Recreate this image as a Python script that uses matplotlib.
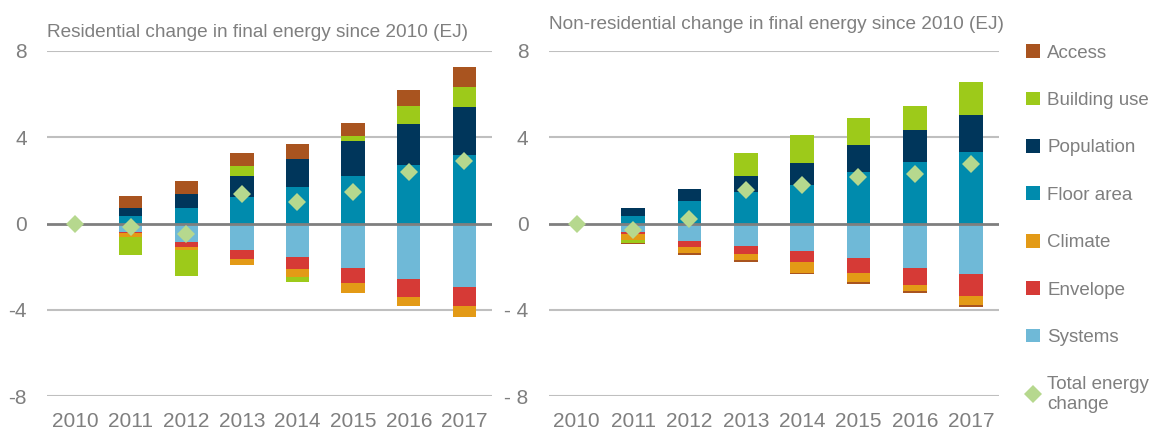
import matplotlib.pyplot as plt
from matplotlib.lines import Line2D
from matplotlib.patches import Patch
import numpy as np

plt.rcParams['font.family'] = ['Liberation Sans', 'DejaVu Sans']

years = ["2010", "2011", "2012", "2013", "2014", "2015", "2016", "2017"]

# stacking order, closest to zero first
series = ["Systems", "Envelope", "Climate", "Floor area", "Population", "Building use", "Access"]
colors = {
    "Systems": "#6FB9D7",
    "Envelope": "#D63A36",
    "Climate": "#E39A16",
    "Floor area": "#008BAD",
    "Population": "#00365B",
    "Building use": "#9DCA1A",
    "Access": "#A9541F",
}
total_color = "#B6D88E"

# Residential (EJ)
res_systems = [0, -0.37, -0.85, -1.24, -1.57, -2.05, -2.56, -2.93]
res_envelope = [0, -0.08, -0.22, -0.39, -0.54, -0.70, -0.85, -0.90]
res_climate = [0, -0.17, -0.17, -0.31, -0.39, -0.47, -0.39, -0.51]
res_floor = [0, 0.36, 0.71, 1.21, 1.68, 2.22, 2.70, 3.18]
res_population = [0, 0.34, 0.66, 0.99, 1.33, 1.63, 1.93, 2.22]
res_building_use = [0, -0.84, -1.20, 0.49, -0.19, 0.19, 0.84, 0.94]
res_access = [0, 0.57, 0.60, 0.60, 0.69, 0.60, 0.73, 0.91]
res_total = [0, -0.17, -0.47, 1.35, 1.01, 1.44, 2.38, 2.90]

# Non-residential (EJ)
nonres_systems = [0, -0.37, -0.81, -1.05, -1.27, -1.61, -2.05, -2.36]
nonres_envelope = [0, -0.12, -0.28, -0.36, -0.50, -0.68, -0.82, -0.98]
nonres_climate = [0, -0.28, -0.28, -0.28, -0.50, -0.42, -0.26, -0.43]
nonres_floor = [0, 0.36, 1.05, 1.46, 1.80, 2.40, 2.85, 3.33]
nonres_population = [0, 0.34, 0.53, 0.74, 1.01, 1.26, 1.48, 1.72]
nonres_building_use = [0, -0.12, 0, 1.09, 1.30, 1.25, 1.10, 1.52]
nonres_access = [0, -0.08, -0.08, -0.08, -0.08, -0.08, -0.08, -0.08]
nonres_total = [0, -0.28, 0.19, 1.55, 1.80, 2.17, 2.28, 2.76]

res_data = [res_systems, res_envelope, res_climate, res_floor, res_population, res_building_use, res_access]
nonres_data = [nonres_systems, nonres_envelope, nonres_climate, nonres_floor, nonres_population, nonres_building_use, nonres_access]

grey = "#7F7F7F"


def draw_panel(ax, data, total, title, ticklabels, title_y):
    x = np.arange(len(years))
    pos = np.zeros(len(years))
    neg = np.zeros(len(years))
    for name, vals in zip(series, data):
        vals = np.array(vals, dtype=float)
        bottoms = np.where(vals >= 0, pos, neg)
        ax.bar(x, vals, 0.42, bottom=bottoms, color=colors[name], zorder=2)
        pos = pos + np.where(vals >= 0, vals, 0)
        neg = neg + np.where(vals < 0, vals, 0)
    ax.plot(x, total, linestyle="none", marker="D", markersize=9,
            color=total_color, markeredgewidth=0, zorder=4)

    ax.set_xlim(-0.5, 7.5)
    ax.set_ylim(-8, 8)
    ax.set_yticks([8, 4, 0, -4, -8])
    ax.set_yticklabels(ticklabels)
    ax.set_xticks(x)
    ax.set_xticklabels(years)
    for v in [8, 4, -4, -8]:
        ax.axhline(v, color="#BFBFBF", linewidth=1.5, zorder=1)
    ax.axhline(0, color=grey, linewidth=2, zorder=3)
    for s in ax.spines.values():
        s.set_visible(False)
    ax.tick_params(length=0, labelsize=15, colors=grey)
    ax.tick_params(axis="x", pad=11.5)
    ax.tick_params(axis="y", pad=14.5)
    ax.set_title(title, loc="left", color=grey, fontsize=13.7, y=title_y)


fig = plt.figure(figsize=(11.5, 4.32), dpi=100)
ax1 = fig.add_axes([0.041, 0.083, 0.387, 0.799])
ax2 = fig.add_axes([0.477, 0.083, 0.392, 0.799])

draw_panel(ax1, res_data, res_total,
           "Residential change in final energy since 2010 (EJ)",
           ["8", "4", "0", "-4", "-8"], 1.015)
draw_panel(ax2, nonres_data, nonres_total,
           "Non-residential change in final energy since 2010 (EJ)",
           ["8", "4", "0", "- 4", "- 8"], 1.04)

handles = [Patch(facecolor=colors[n], label=n) for n in reversed(series)]
handles.append(Line2D([], [], linestyle="none", marker="D", markersize=9,
                      color=total_color, markeredgewidth=0, label="Total energy\nchange"))
leg = fig.legend(handles=handles, loc="upper left", bbox_to_anchor=(0.886, 0.915),
                 frameon=False, fontsize=13.5, labelcolor=grey, handlelength=0.75,
                 handleheight=0.75, handletextpad=0.35, labelspacing=1.6,
                 borderaxespad=0)

fig.savefig("out.png", dpi=100)
